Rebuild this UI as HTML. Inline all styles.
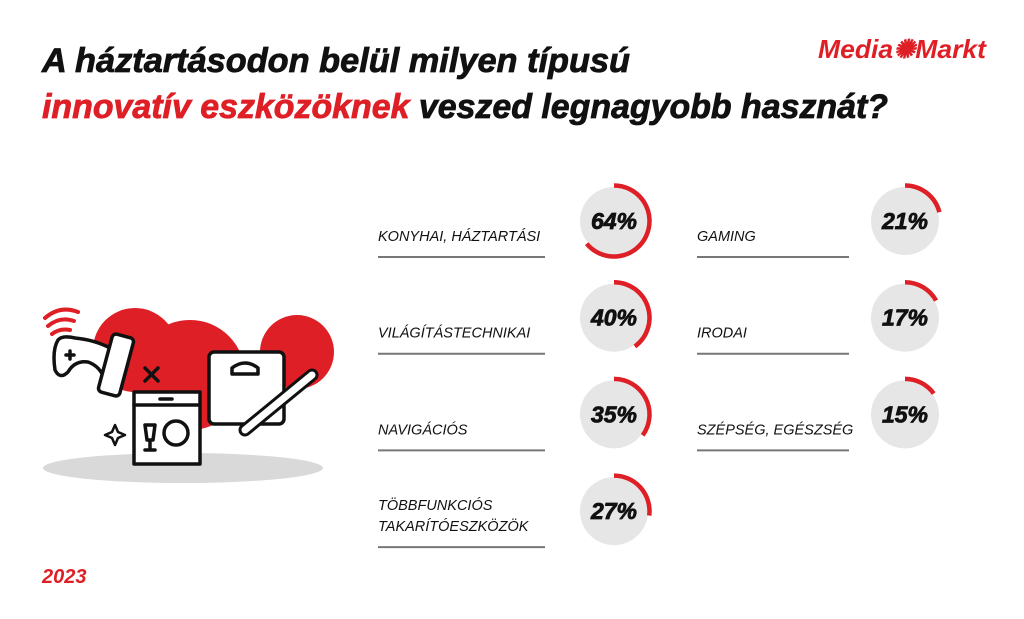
<!DOCTYPE html>
<html><head><meta charset="utf-8"><style>
body{margin:0;background:#fff;}
svg{display:block;}
</style></head><body>
<svg id="chart" width="1024" height="619" viewBox="0 0 1024 619" xmlns="http://www.w3.org/2000/svg">
<g font-family="Liberation Sans, sans-serif" font-weight="bold" font-style="italic" font-size="34">
<text x="42" y="72" textLength="588" lengthAdjust="spacingAndGlyphs" fill="#111" stroke="#111" stroke-width="0.8">A háztartásodon belül milyen típusú</text>
<text x="42" y="118" textLength="846" lengthAdjust="spacingAndGlyphs" fill="#111" stroke="#111" stroke-width="0.8"><tspan fill="#df1f26" stroke="#df1f26">innovatív eszközöknek</tspan> veszed legnagyobb hasznát?</text>
</g>
<text x="818" y="58" font-family="Liberation Sans, sans-serif" font-weight="bold" font-style="italic" font-size="26" fill="#df1f26" textLength="168" lengthAdjust="spacingAndGlyphs">Media✺Markt</text>
<text x="42" y="583" font-family="Liberation Sans, sans-serif" font-weight="bold" font-style="italic" font-size="20" fill="#df1f26">2023</text>

<g>
<ellipse cx="183" cy="468" rx="140" ry="15" fill="#d9d9d9"/>
<circle cx="135" cy="350" r="42" fill="#df1f26"/>
<circle cx="190" cy="375" r="55" fill="#df1f26"/>
<circle cx="297" cy="352" r="37" fill="#df1f26"/>
<g fill="none" stroke="#111" stroke-width="3.5" stroke-linejoin="round" stroke-linecap="round">
<path d="M58 340 Q52 350 55 370 Q60 380 68 372 Q75 360 88 362 Q100 366 105 380 Q112 392 118 378 Q118 360 110 348 Q95 340 75 338 Q62 335 58 340Z" fill="#fff"/>
<path d="M66 355 L74 355 M70 351 L70 359"/>
<rect x="105" y="335" width="22" height="60" rx="4" transform="rotate(15 116 365)" fill="#fff"/>
<path d="M145 368 L158 381 M158 368 L145 381" stroke="#111"/>
<rect x="134" y="392" width="66" height="72" fill="#fff"/>
<line x1="134" y1="405" x2="200" y2="405"/>
<line x1="160" y1="399" x2="172" y2="399"/>
<circle cx="176" cy="433" r="12"/>
<path d="M145 425 L155 425 L153 440 L147 440Z M150 440 L150 450 M145 450 L155 450"/>
<rect x="209" y="352" width="75" height="72" rx="5" fill="#fff"/>
<path d="M232 368 Q245 358 258 368 L258 374 L232 374Z"/>
<path d="M245 430 L312 375" stroke-width="13" stroke="#111"/>
<path d="M245 430 L312 375" stroke-width="7" stroke="#fff"/>
<path d="M115 425 L118 432 L125 435 L118 438 L115 445 L112 438 L105 435 L112 432Z" stroke-width="2.5"/>
</g>
<path d="M45 318 Q60 305 78 312 M48 326 Q60 316 74 321 M52 334 Q60 328 70 330" stroke="#df1f26" stroke-width="4" fill="none" stroke-linecap="round"/>
</g>
<g id="items"></g>
</svg>
<script>
const labels=[["KONYHAI, HÁZTARTÁSI"],["VILÁGÍTÁSTECHNIKAI"],["NAVIGÁCIÓS"],["TÖBBFUNKCIÓS","TAKARÍTÓESZKÖZÖK"],["GAMING"],["IRODAI"],["SZÉPSÉG, EGÉSZSÉG"]];
const values=[64,40,35,27,21,17,15];
const cols=[0,0,0,0,1,1,1];
const rows=[0,1,2,3,0,1,2];
const NS="http://www.w3.org/2000/svg";
const g=document.getElementById('items');
function mk(t,a,p){const e=document.createElementNS(NS,t);for(const k in a)e.setAttribute(k,a[k]);p.appendChild(e);return e;}
const colLabelX=[378,697],colLineEnd=[545,849],colCx=[614,905];
values.forEach((v,i)=>{
 const c=cols[i],r=rows[i];
 const cy=221+r*96.7, cx=colCx[c];
 const grp=mk('g',{},g);
 
 
 const lineY=cy+36;
 const ln=labels[i];
 ln.forEach((t,j)=>{
  const tx=mk('text',{x:colLabelX[c],y:lineY-(ln.length-j)*21+5,'font-family':'Liberation Sans, sans-serif','font-style':'italic','font-size':'14.5',fill:'#111'},grp);
  tx.textContent=t;
  
  
 });
 const l=mk('line',{x1:colLabelX[c],x2:colLineEnd[c],y1:lineY,y2:lineY,stroke:'#777','stroke-width':'2'},grp);
 
 
 const bg=mk('circle',{cx:cx,cy:cy,r:34,fill:'#e6e6e6'},grp);
 
 
 const R=35.5,a=v/100*2*Math.PI;
 const x2=cx+R*Math.sin(a),y2=cy-R*Math.cos(a);
 const arc=mk('path',{d:`M${cx} ${cy-R} A${R} ${R} 0 ${v>50?1:0} 1 ${x2} ${y2}`,fill:'none',stroke:'#df1f26','stroke-width':'4.5'},grp);
 
 
 const pt=mk('text',{x:cx,y:cy+8,'text-anchor':'middle','font-family':'Liberation Sans, sans-serif','font-weight':'bold','font-style':'italic','font-size':'23',fill:'#111',stroke:'#111','stroke-width':'0.8'},grp);
 pt.textContent=v+'%';
 
 
});
</script>
</body></html>
